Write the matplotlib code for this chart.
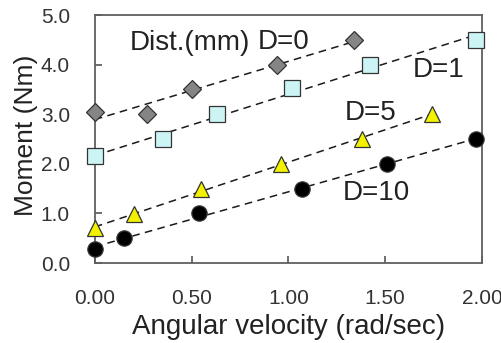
import matplotlib
matplotlib.use("Agg")
import matplotlib.pyplot as plt
import numpy as np

plt.rcParams['font.family'] = ['Liberation Sans', 'DejaVu Sans']

# Data
x_d0 = [0.00, 0.27, 0.50, 0.94, 1.34]
y_d0 = [3.05, 3.00, 3.50, 4.00, 4.50]
x_d1 = [0.00, 0.35, 0.63, 1.02, 1.42, 1.97]
y_d1 = [2.15, 2.50, 3.00, 3.52, 4.00, 4.50]
x_d5 = [0.00, 0.20, 0.55, 0.96, 1.38, 1.74]
y_d5 = [0.70, 0.98, 1.50, 2.00, 2.50, 3.00]
x_d10 = [0.00, 0.15, 0.54, 1.07, 1.51, 1.97]
y_d10 = [0.28, 0.50, 1.00, 1.50, 2.00, 2.50]

series = [
    (x_d0, y_d0, 'D', '#858585', 9, 'D=0'),
    (x_d1, y_d1, 's', '#ccf4f4', 11, 'D=1'),
    (x_d5, y_d5, '^', '#f2f200', 11, 'D=5'),
    (x_d10, y_d10, 'o', '#000000', 11, 'D=10'),
]

x_ticks = [0.0, 0.5, 1.0, 1.5, 2.0]
x_ticklabels = ['0.00', '0.50', '1.00', '1.50', '2.00']
y_ticks = [0, 1, 2, 3, 4, 5]
y_ticklabels = ['0.0', '1.0', '2.0', '3.0', '4.0', '5.0']

fig = plt.figure(figsize=(5.02, 3.43), dpi=100)
ax = fig.add_axes([0.189, 0.233, 0.771, 0.723])

for xs, ys, mk, col, ms, lab in series:
    xs = np.array(xs); ys = np.array(ys)
    k, b = np.polyfit(xs, ys, 1)
    xl = np.array([0, xs.max()])
    ax.plot(xl, k * xl + b, linestyle=(0, (5, 3.5)), color='#1a1a1a', lw=1.1, zorder=2)
    ax.plot(xs, ys, linestyle='none', marker=mk, markersize=ms,
            markerfacecolor=col, markeredgecolor='#333333', markeredgewidth=0.9,
            zorder=3, clip_on=False)

ax.set_xlim(0, 2.0)
ax.set_ylim(0, 5.0)
ax.set_xticks(x_ticks)
ax.set_xticklabels(x_ticklabels)
ax.set_yticks(y_ticks)
ax.set_yticklabels(y_ticklabels)
ax.tick_params(direction='in', length=5, width=1.2, color='#555555',
               labelsize=15, labelcolor='#333333')
ax.tick_params(axis='x', pad=19)
ax.tick_params(axis='y', pad=18)
for s in ax.spines.values():
    s.set_color('#606060')
    s.set_linewidth(1.3)

ax.set_xlabel('Angular velocity (rad/sec)', fontsize=20, color='#222222', labelpad=4)
ax.set_ylabel('Moment (Nm)', fontsize=19, color='#222222')
ax.yaxis.set_label_coords(-0.147, 0.516)

txt = dict(fontsize=20, color='#222222', va='center', ha='left')
ax.text(0.18, 4.44, 'Dist.(mm)', **txt)
ax.text(0.84, 4.46, 'D=0', **txt)
ax.text(1.64, 3.89, 'D=1', **txt)
ax.text(1.29, 3.02, 'D=5', **txt)
ax.text(1.28, 1.41, 'D=10', **txt)

fig.savefig('out.png', dpi=100)
